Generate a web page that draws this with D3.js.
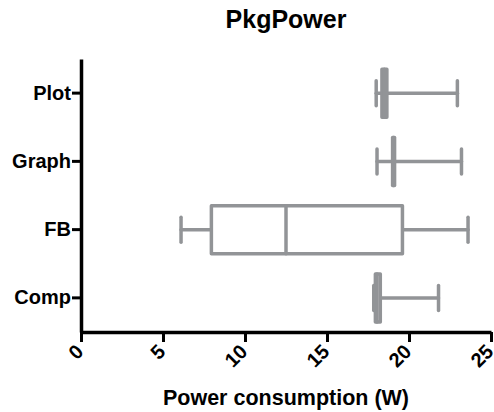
<!DOCTYPE html>
<html>
<head>
<meta charset="utf-8">
<script src="https://cdn.jsdelivr.net/npm/d3@7"></script>
<style>
  body { margin: 0; background: #fff; }
  text { font-family: "Liberation Sans", Arial, sans-serif; font-weight: bold; }
</style>
</head>
<body>
<div id="chart"></div>
<script>
// box plot data
var groups = ["Plot", "Graph", "FB", "Comp"];
var mins    = [18.0, 18.05, 6.1, 17.85];
var q1s     = [18.35, 19.0, 7.95, 17.95];
var medians = [18.5, 19.05, 12.5, 18.05];
var q3s     = [18.65, 19.12, 19.6, 18.25];
var maxs    = [22.95, 23.2, 23.6, 21.8];
var xTicks  = [0, 5, 10, 15, 20, 25];

var width = 494, height = 412;
var margin = {top: 59, right: 3, bottom: 80, left: 81};
var boxColor = "#929497";

var svg = d3.select("#chart").append("svg")
    .attr("width", width)
    .attr("height", height);

var x = d3.scaleLinear()
    .domain([0, 25])
    .range([margin.left, width - margin.right]);

var y = d3.scaleBand()
    .domain(groups)
    .range([margin.top, height - margin.bottom]);

var boxH = 48, capH = 25;

var rows = groups.map(function(g, i) {
  return {name: g, min: mins[i], q1: q1s[i], med: medians[i], q3: q3s[i], max: maxs[i]};
});

var g = svg.selectAll(".box")
    .data(rows)
  .enter().append("g")
    .attr("class", "box")
    .attr("transform", function(d) { return "translate(0," + (y(d.name) + y.bandwidth() / 2) + ")"; })
    .attr("stroke", boxColor)
    .attr("stroke-width", 3.5)
    .attr("stroke-linecap", "round")
    .attr("stroke-linejoin", "round")
    .attr("fill", "none");

// whiskers
g.append("line")
    .attr("x1", function(d) { return x(d.min); })
    .attr("x2", function(d) { return x(d.max); });

// whisker caps
g.append("line")
    .attr("x1", function(d) { return x(d.min); })
    .attr("x2", function(d) { return x(d.min); })
    .attr("y1", -capH / 2).attr("y2", capH / 2);
g.append("line")
    .attr("x1", function(d) { return x(d.max); })
    .attr("x2", function(d) { return x(d.max); })
    .attr("y1", -capH / 2).attr("y2", capH / 2);

// box
g.append("rect")
    .attr("x", function(d) { return x(d.q1); })
    .attr("width", function(d) { return x(d.q3) - x(d.q1); })
    .attr("y", -boxH / 2)
    .attr("height", boxH)
    .attr("fill", "#fff");

// median
g.append("line")
    .attr("x1", function(d) { return x(d.med); })
    .attr("x2", function(d) { return x(d.med); })
    .attr("y1", -boxH / 2).attr("y2", boxH / 2);

// axes
var xAxis = svg.append("g")
    .attr("transform", "translate(0," + (height - margin.bottom) + ")")
    .call(d3.axisBottom(x).tickValues(xTicks).tickSize(10).tickSizeOuter(0));

xAxis.select(".domain").attr("stroke", "#000").attr("stroke-width", 3.5);
xAxis.selectAll(".tick line").attr("stroke", "#000").attr("stroke-width", 3);
xAxis.selectAll(".tick text")
    .attr("font-size", 20)
    .attr("fill", "#000")
    .attr("text-anchor", "end")
    .attr("dy", "0.35em")
    .attr("transform", "translate(1,13) rotate(-45)")
    .attr("x", -4).attr("y", 0);

var yAxis = svg.append("g")
    .attr("transform", "translate(" + margin.left + ",0)")
    .call(d3.axisLeft(y).tickSize(9).tickSizeOuter(0));

yAxis.select(".domain").attr("stroke", "#000").attr("stroke-width", 3.5);
yAxis.selectAll(".tick text")
    .attr("font-size", 20)
    .attr("fill", "#000")
    .attr("x", -10);
yAxis.selectAll(".tick line").attr("stroke", "#000").attr("stroke-width", 3);

// titles
svg.append("text")
    .attr("x", 286).attr("y", 28)
    .attr("text-anchor", "middle")
    .attr("font-size", 25)
    .text("PkgPower");

svg.append("text")
    .attr("x", 286).attr("y", 405)
    .attr("text-anchor", "middle")
    .attr("font-size", 21.5)
    .text("Power consumption (W)");
</script>
</body>
</html>
